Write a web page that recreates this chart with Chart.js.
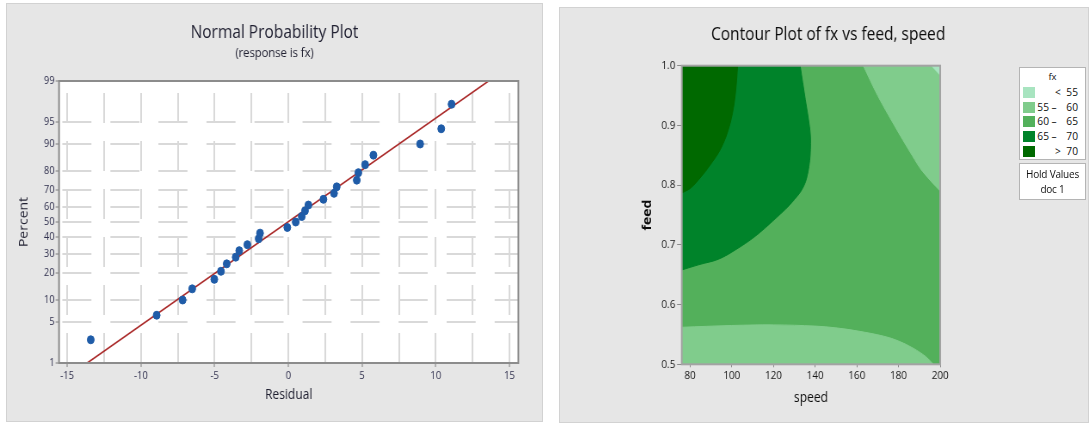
<!DOCTYPE html>
<html>
<head>
<meta charset="utf-8">
<title>Normal probability plot and contour plot of fx</title>
<script src="https://cdn.jsdelivr.net/npm/chart.js@4.4.1/dist/chart.umd.min.js"></script>
<style>
  html, body { margin: 0; padding: 0; background: #fff; }
  body { width: 1089px; height: 423px; position: relative; overflow: hidden; font-family: 'Open Sans', sans-serif; }
  .panel { position: absolute; background: #e6e6e6; box-shadow: inset 0 0 0 1px #d2d2d2; }
  .panel canvas { position: absolute; left: 0; top: 0; }
  .box { position: absolute; background: #fff; border: 1px solid #b4b4b4; box-sizing: border-box; color: #111; }
  .box .row { position: absolute; left: 0; width: 100%; height: 11px; font-size: 10.2px; line-height: 11px; }
  .box .sw { position: absolute; left: 3px; top: 0; width: 12px; height: 11px; }
  .box .lo { position: absolute; left: 14px; width: 15px; text-align: right; }
  .box .mid { position: absolute; left: 30px; width: 8px; text-align: center; }
  .box .hi { position: absolute; left: 39px; width: 19px; text-align: right; }
  .box .ttl { position: absolute; left: 0; width: 100%; text-align: center; font-size: 9.5px; }
  .box .line { position: absolute; left: 0; width: 100%; text-align: center; font-size: 10px; letter-spacing: -0.2px; }
</style>
</head>
<body>
<div class="panel" style="left:6px;top:3px;width:537px;height:419px">
  <canvas id="npp"></canvas>
</div>
<div class="panel" style="left:559px;top:7px;width:530px;height:416px">
  <canvas id="contour"></canvas>
</div>
<div class="box" id="legend" style="left:1019px;top:67px;width:67px;height:93px"></div>
<div class="box" id="hold" style="left:1019px;top:163px;width:67px;height:37px"></div>

<script>
// ---- normal probability plot (response is fx) ----
const residuals = [-13.4, -8.93, -7.17, -6.52, -5.02, -4.57, -4.18, -3.57, -3.33, -2.78, -2.01, -1.92,
  -0.07, 0.50, 0.91, 1.13, 1.36, 2.38, 3.10, 3.28, 4.64, 4.75, 5.21, 5.77, 8.94, 10.37, 11.07];
const percents = [2.6, 6.2, 9.9, 13.5, 17.2, 20.8, 24.5, 28.1, 31.8, 35.4, 39.1, 42.7,
  46.4, 50.0, 53.6, 57.3, 61.0, 64.6, 68.2, 71.9, 75.5, 79.2, 82.8, 86.5, 90.1, 93.8, 97.4];
const fitResidual = [-13.64, 13.58];
const fitPercent = [1, 99];
const pctTicks = [1, 5, 10, 20, 30, 40, 50, 60, 70, 80, 90, 95, 99];
const resTicks = [-15, -10, -5, 0, 5, 10, 15];
const resGrid = [-15, -12.5, -10, -7.5, -5, -2.5, 0, 2.5, 5, 7.5, 10, 12.5, 15];

// ---- contour plot of fx vs feed, speed (hold doc = 1) ----
const speedTicks = [80, 100, 120, 140, 160, 180, 200];
const feedTicks = [0.5, 0.6, 0.7, 0.8, 0.9, 1.0];
const speedRange = [76, 200];
const feedRange = [0.5, 1.0];
const levelLow = [null, 55, 60, 65, 70];
const levelHigh = [55, 60, 65, 70, null];
const levelColors = ['#a8e4c0', '#80cc8c', '#53b05b', '#00832a', '#006900'];
const holdValues = ['Hold Values', 'doc 1'];

// contour lines (speed where the line crosses each feed)
const c70Feed = [0.787, 0.795, 0.814, 0.837, 0.859, 0.887, 0.920, 0.959, 1.0];
const c70Speed = [76, 80.2, 85.3, 90.3, 94.4, 97.8, 100.3, 101.9, 102.8];
const c65Feed = [0.658, 0.667, 0.676, 0.692, 0.714, 0.742, 0.770, 0.798, 0.831, 0.870, 0.898, 0.943, 1.0];
const c65Speed = [76, 84.4, 93.6, 101.9, 111.1, 120.3, 128.6, 134.5, 137, 137.8, 137.3, 135.3, 132.8];
const c60TopFeed = [0.79, 0.823, 0.85, 0.9, 0.95, 1.0];
const c60TopSpeed = [200, 191.5, 186.5, 178, 170, 163.1];
const c55Feed = [0.984, 1.0];
const c55Speed = [200, 195.9];
// lower 60 line: feed at each speed
const c60LowSpeed = [76, 100, 120, 140, 150, 160, 173, 180, 187, 193, 196.7];
const c60LowFeed = [0.562, 0.565, 0.566, 0.564, 0.561, 0.556, 0.547, 0.539, 0.527, 0.513, 0.5];

Chart.defaults.font.family = "'Open Sans', 'DejaVu Sans', sans-serif";
Chart.defaults.animation = false;

// the reference is squeezed sideways, so the canvases are drawn wider
// than they are shown
const SQ = 0.86;
const ix = px => px / SQ;

// inverse normal cdf (Acklam), for the probability axis
function probit(p) {
    const a = [-39.69683028665376, 220.9460984245205, -275.9285104469687, 138.3577518672690, -30.66479806614716, 2.506628277459239];
    const b = [-54.47609879822406, 161.5858368580409, -155.6989798598866, 66.80131188771972, -13.28068155288572];
    const c = [-0.007784894002430293, -0.3223964580411365, -2.400758277161838, -2.549732539343734, 4.374664141464968, 2.938163982698783];
    const d = [0.007784695709041462, 0.3224671290700398, 2.445134137142996, 3.754408661907416];
    const tail = q => (((((c[0] * q + c[1]) * q + c[2]) * q + c[3]) * q + c[4]) * q + c[5]) /
        ((((d[0] * q + d[1]) * q + d[2]) * q + d[3]) * q + 1);
    if (p < 0.02425) return tail(Math.sqrt(-2 * Math.log(p)));
    if (p > 1 - 0.02425) return -tail(Math.sqrt(-2 * Math.log(1 - p)));
    const q = p - 0.5, r = q * q;
    return (((((a[0] * r + a[1]) * r + a[2]) * r + a[3]) * r + a[4]) * r + a[5]) * q /
        (((((b[0] * r + b[1]) * r + b[2]) * r + b[3]) * r + b[4]) * r + 1);
}

const framePlugin = {
    id: 'frame',
    beforeDraw(chart, args, opts) {
        if (!opts.fill) return;
        const a = chart.chartArea;
        chart.ctx.save();
        chart.ctx.fillStyle = opts.fill;
        chart.ctx.fillRect(a.left, a.top, a.width, a.height);
        chart.ctx.restore();
    },
    afterDatasetsDraw(chart, args, opts) {
        const a = chart.chartArea;
        const ctx = chart.ctx;
        ctx.save();
        ctx.strokeStyle = opts.color;
        ctx.lineWidth = opts.width;
        ctx.strokeRect(a.left, a.top, a.width, a.height);
        ctx.restore();
    }
};

function sizeCanvas(el, w, h) {
    el.width = Math.round(ix(w));
    el.height = h;
    el.style.width = w + 'px';
    el.style.height = h + 'px';
    return el.width;
}

// ---------- left: normal probability plot ----------
const nppEl = document.getElementById('npp');
const nppW = sizeCanvas(nppEl, 537, 419);
const inkL = '#1f1f30';

new Chart(nppEl, {
    type: 'scatter',
    data: {
        datasets: [{
            type: 'line',
            data: fitResidual.map((r, i) => ({ x: r, y: probit(fitPercent[i] / 100) })),
            borderColor: '#ab2b2b',
            borderWidth: 1.6,
            pointRadius: 0,
            fill: false,
            order: 2
        }, {
            data: residuals.map((r, i) => ({ x: r, y: probit(percents[i] / 100) })),
            backgroundColor: '#1f5ca8',
            borderColor: '#1f5ca8',
            pointRadius: 4,
            order: 1
        }]
    },
    options: {
        responsive: false,
        layout: { padding: 0 },
        plugins: {
            legend: { display: false },
            tooltip: { enabled: false },
            title: { display: true, text: 'Normal Probability Plot', color: inkL,
                font: { size: 18, weight: '500' }, padding: { top: 19.5, bottom: 0 } },
            subtitle: { display: true, text: '(response is fx)', color: inkL,
                font: { size: 13 }, padding: { top: 1.4, bottom: 19.9 } },
            frame: { fill: '#ffffff', color: '#8c8c8c', width: 2 }
        },
        scales: {
            x: {
                type: 'linear', min: -15.55, max: 15.6,
                afterBuildTicks: s => { s.ticks = resGrid.map(v => ({ value: v })); },
                afterFit: s => { s.height = 59; },
                grid: {
                    color: '#d9d9d9', lineWidth: 2, tickLength: 4, tickWidth: 1,
                    tickColor: c => (c.tick && resTicks.includes(c.tick.value)) ? '#7c7c7c' : 'rgba(0,0,0,0)'
                },
                border: { display: false, dash: [30, 18], dashOffset: 36 },
                ticks: { autoSkip: false, maxRotation: 0, padding: 2.4, color: '#30304e', font: { size: 11 },
                    callback: v => resTicks.includes(v) ? String(v) : '' },
                title: { display: true, text: 'Residual', color: inkL, font: { size: 14 }, padding: { top: 0, bottom: 18.6 } }
            },
            y: {
                type: 'linear', min: probit(0.01), max: probit(0.99),
                afterBuildTicks: s => { s.ticks = pctTicks.map(p => ({ value: probit(p / 100) })); },
                afterFit: s => { s.width = ix(53); },
                grid: { color: '#d9d9d9', lineWidth: 2, tickLength: 4, tickWidth: 1, tickColor: '#7c7c7c' },
                border: { display: false, dash: [ix(29), ix(19)], dashOffset: ix(45) },
                ticks: { autoSkip: false, padding: 1, color: '#30304e', font: { size: 11 },
                    callback: (v, i) => String(pctTicks[i]) },
                title: { display: true, text: 'Percent', color: inkL, font: { size: 14 }, padding: { top: 13, bottom: 0 } }
            },
            pad: {
                type: 'linear', position: 'right',
                grid: { display: false }, border: { display: false }, ticks: { display: false },
                afterFit: s => { s.width = nppW - ix(512); }
            }
        }
    },
    plugins: [framePlugin]
});

// ---------- right: contour plot ----------
const cpEl = document.getElementById('contour');
const cpW = sizeCanvas(cpEl, 530, 416);
const padLeft = 9.6;

function byFeed(feeds, speeds) {
    return feeds.map((f, i) => ({ x: speeds[i], y: f }));
}

function band(points, color, fill, indexAxis, order) {
    return {
        data: points, indexAxis, fill, order,
        backgroundColor: color, borderColor: color, borderWidth: 1,
        pointRadius: 0, tension: 0.35
    };
}

new Chart(cpEl, {
    type: 'line',
    data: {
        datasets: [
            // 60 - 65 covers everything not claimed by another band
            band([{ x: speedRange[0], y: feedRange[1] }, { x: speedRange[1], y: feedRange[1] }], levelColors[2], 'start', 'x', 6),
            band(c60LowSpeed.map((s, i) => ({ x: s, y: c60LowFeed[i] })), levelColors[1], 'start', 'x', 5),
            band(byFeed(c60TopFeed, c60TopSpeed), levelColors[1], { value: speedRange[1] }, 'y', 4),
            band(byFeed(c55Feed, c55Speed), levelColors[0], { value: speedRange[1] }, 'y', 3),
            band(byFeed(c65Feed, c65Speed), levelColors[3], { value: speedRange[0] }, 'y', 2),
            band(byFeed(c70Feed, c70Speed), levelColors[4], { value: speedRange[0] }, 'y', 1)
        ]
    },
    options: {
        responsive: false,
        layout: { padding: { left: padLeft } },
        plugins: {
            legend: { display: false },
            tooltip: { enabled: false },
            title: { display: true, text: 'Contour Plot of fx vs feed, speed', color: '#0c0c0c',
                font: { size: 18, weight: '500' }, padding: { top: 17.2, bottom: 19.9 } },
            frame: { color: '#a3a3a3', width: 2 }
        },
        scales: {
            x: {
                type: 'linear', min: speedRange[0], max: speedRange[1],
                afterBuildTicks: s => { s.ticks = speedTicks.map(v => ({ value: v })); },
                afterFit: s => { s.height = 58.7; },
                grid: { drawOnChartArea: false, tickLength: 3, tickColor: '#8a8a8a' },
                border: { display: false },
                ticks: { autoSkip: false, maxRotation: 0, padding: 1.8, color: '#161616', font: { size: 11.5 } },
                title: { display: true, text: 'speed', color: '#0c0c0c', font: { size: 14 }, padding: { top: 0, bottom: 16.6 } }
            },
            y: {
                type: 'linear', min: feedRange[0], max: feedRange[1],
                afterBuildTicks: s => { s.ticks = feedTicks.map(v => ({ value: v })); },
                afterFit: s => { s.width = ix(122.7) - padLeft; },
                grid: { drawOnChartArea: false, tickLength: ix(4.7), tickColor: '#8a8a8a' },
                border: { display: false },
                ticks: { autoSkip: false, padding: 2, color: '#161616', font: { size: 11.5 },
                    callback: v => v.toFixed(1) },
                title: { display: true, text: 'feed', color: '#0c0c0c', font: { size: 14, weight: 'bold' },
                    padding: { top: 84.8, bottom: 0 } }
            },
            pad: {
                type: 'linear', position: 'right',
                grid: { display: false }, border: { display: false }, ticks: { display: false },
                afterFit: s => { s.width = cpW - ix(381); }
            }
        }
    },
    plugins: [framePlugin]
});

// legend boxes, built from the level arrays
const legend = document.getElementById('legend');
legend.innerHTML = '<div class="ttl" style="top:2px">fx</div>';
levelColors.forEach((col, i) => {
    const row = document.createElement('div');
    row.className = 'row';
    row.style.top = (19 + i * 14.7) + 'px';
    let html = `<div class="sw" style="background:${col}"></div>`;
    if (levelLow[i] === null) {
        html += `<span class="mid" style="left:34px">&lt;</span><span class="hi">${levelHigh[i]}</span>`;
    } else if (levelHigh[i] === null) {
        html += `<span class="mid" style="left:34px">&gt;</span><span class="hi">${levelLow[i]}</span>`;
    } else {
        html += `<span class="lo">${levelLow[i]}</span><span class="mid">–</span><span class="hi">${levelHigh[i]}</span>`;
    }
    row.innerHTML = html;
    legend.appendChild(row);
});

const hold = document.getElementById('hold');
holdValues.forEach((t, i) => {
    const el = document.createElement('div');
    el.className = 'line';
    el.style.top = (3 + i * 14.5) + 'px';
    el.textContent = t;
    hold.appendChild(el);
});
</script>
</body>
</html>
